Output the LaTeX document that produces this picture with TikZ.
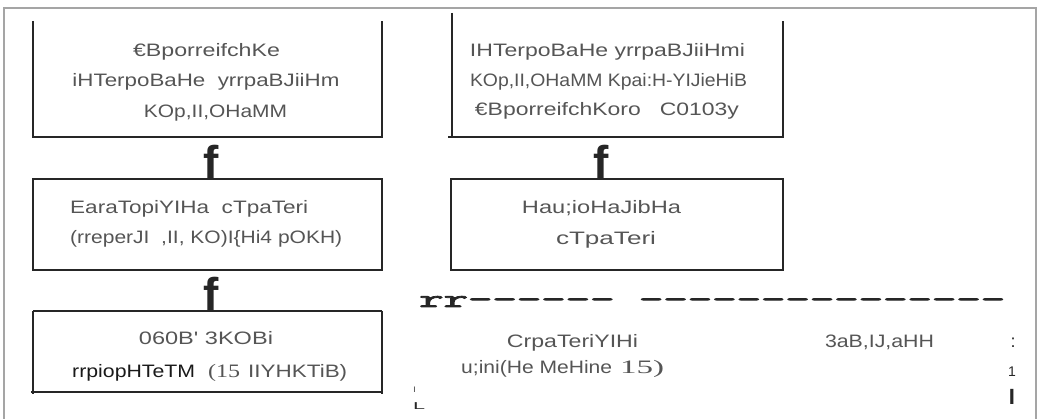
\documentclass[tikz,border=0pt]{standalone}
\usepackage{fontspec}
\setmainfont{Liberation Sans}
\setmonofont{Latin Modern Mono}[FakeBold=3]
\newfontfamily\serf{Liberation Serif}
\usepackage{graphicx}
\usetikzlibrary{calc}
\definecolor{txt}{RGB}{85,85,85}
\definecolor{edgec}{RGB}{38,38,38}
\definecolor{frm}{RGB}{165,165,165}
\newcommand\fw[2]{\resizebox{#1pt}{\height}{#2}}
\newcommand\fsz[1]{\fontsize{#1}{#1}\selectfont}
\begin{document}
\begin{tikzpicture}[x=1pt,y=-1pt,
  boxn/.style={draw=none,inner sep=0pt,outer sep=0pt},
  edgeline/.style={draw=edgec,line width=2.8pt},
  thinline/.style={draw=edgec,line width=1.2pt},
  tx/.style={anchor=base,inner sep=0pt,text=txt,font=\fsz{18}},
  txw/.style={anchor=base west,inner sep=0pt,text=txt,font=\fsz{18}},
  fnode/.style={anchor=base,inner sep=0pt,text=edgec,font=\fsz{46}\bfseries}]
\useasboundingbox (0,0) rectangle (1037,419);
% outer frame
\draw[frm,line width=1.5pt] (4,419) -- (4,8) -- (1036,8) -- (1036,419);
% boxes
\node[boxn,minimum width=349pt,minimum height=116pt] (b1) at (207.5,79) {};
\node[boxn,minimum width=331pt,minimum height=124pt] (b2) at (617.5,75) {};
\node[boxn,minimum width=349pt,minimum height=91pt] (b3) at (207.5,224.5) {};
\node[boxn,minimum width=332pt,minimum height=91pt] (b4) at (617,224.5) {};
\node[boxn,minimum width=349pt,minimum height=81pt] (b5) at (207.5,351.5) {};
\draw[edgeline] (b1.north west) -- (b1.south west) -- (b1.south east) -- (b1.north east);
\draw[thinline] (b2.north west) -- (b2.south west);
\draw[edgeline] ($(b2.south west)+(-4,0)$) -- (b2.south east) -- ($(b2.north east)+(0,8)$);
\draw[edgeline] (b3.north west) rectangle (b3.south east);
\draw[edgeline] (b4.north west) rectangle (b4.south east);
\draw[thinline] (b5.north west) -- (b5.north east);
\draw[thinline] ($(b5.south west)+(-2,0)$) -- (b5.south east);
\draw[edgeline] (b5.north west) -- ($(b5.south west)+(0,2)$);
\draw[edgeline] (b5.north east) -- ($(b5.south east)+(0,2)$);
% f connectors
\node[fnode] (f1) at (211,179) {f};
\node[fnode] (f2) at (211,311) {f};
\node[fnode] (f3) at (601,179) {f};
% box 1
\node[tx] (b1a) at (206.5,57) {\fw{147}{€BporreifchKe}};
\node[tx] (b1b) at (206,87) {\fw{267}{iHTerpoBaHe\ \ yrrpaBJiiHm}};
\node[tx] (b1c) at (215.5,118) {\fw{143}{KOp,II,OHaMM}};
% box 2
\node[tx] (b2a) at (607.5,57) {\fw{275}{IHTerpoBaHe yrrpaBJiiHmi}};
\node[tx] (b2b) at (608.5,87) {\fw{277}{KOp,II,OHaMM Kpai:H-YIJieHiB}};
\node[tx] (b2c) at (607,116) {\fw{264}{€BporreifchKoro\ \ \ C0103y}};
% box 3
\node[txw] (b3a) at (70,214) {\fw{238}{EaraTopiYIHa\ \ cTpaTeri}};
\node[txw] (b3b) at (70,244) {\fw{272}{(rreperJI\ \ ,II, KO)I\{Hi4 pOKH)}};
% box 4
\node[tx] (b4a) at (601.5,214) {\fw{159}{Hau;ioHaJibHa}};
\node[tx] (b4b) at (606,245) {\fw{100}{cTpaTeri}};
% box 5
\node[tx] (b5a) at (206,345) {\fw{134}{060B\textquotesingle{} 3KOBi}};
\node[txw] (b5b) at (72,378) {\fw{123}{\color{black!90}rrpiopHTeTM}\hspace{13pt}\fw{32}{\serf\fsz{19}(15}\hspace{8pt}\fw{99}{IIYHKTiB)}};
% bottom right
\node[anchor=base west,inner sep=0pt,text=edgec,font=\fsz{25}\ttfamily] (dl) at (419,307) {\fw{586}{rr------ ---------------}};
\node[tx] (s1) at (572.5,348) {\fw{131}{CrpaTeriYIHi}};
\node[txw] (s2) at (461,374) {\fw{151}{u;ini(He MeHine}\hspace{8pt}\fw{44}{\serf\fsz{19}15)}};
\node[tx] (z1) at (879.5,348) {\fw{109}{3aB,IJ,aHH}};
\node[tx,text=edgec] (c1) at (1013,348) {:};
\node[tx,text=edgec,font=\fsz{14}] (c2) at (1012,377) {1};
\node[tx,text=edgec,font=\fsz{22}\bfseries] (c3) at (1012,405) {I};
\node[tx,text=edgec,font=\fsz{8}] (m1) at (414.5,393) {I};
\node[tx,text=edgec,font=\fsz{10}] (m2) at (419,410) {\fw{12}{L}};
\end{tikzpicture}
\end{document}
